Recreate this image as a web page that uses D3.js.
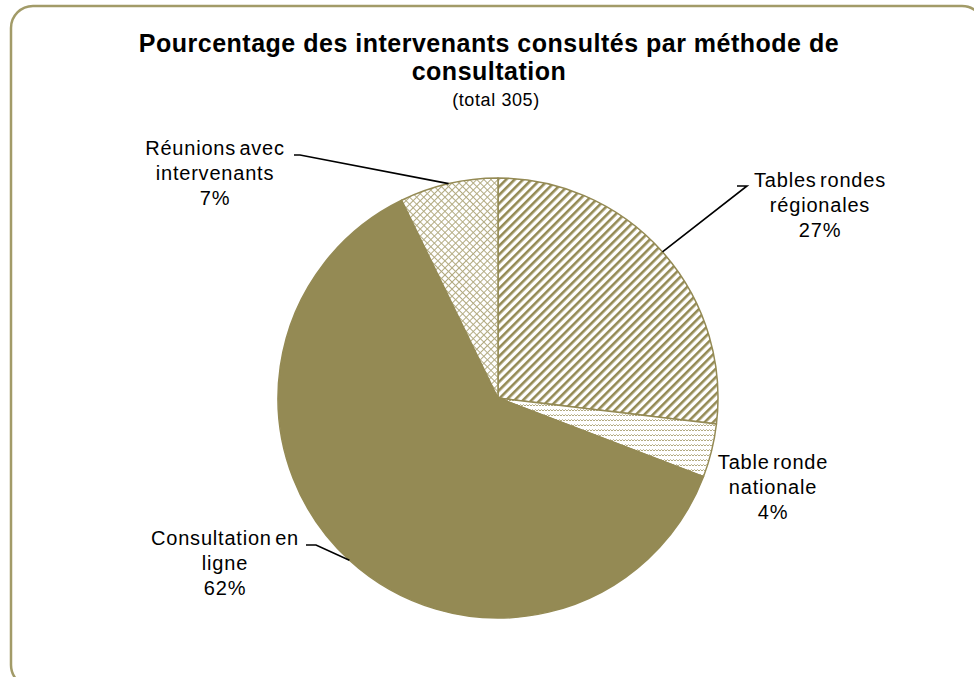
<!DOCTYPE html>
<html>
<head>
<meta charset="utf-8">
<script src="https://cdn.jsdelivr.net/npm/d3@7"></script>
<style>
  body { margin: 0; background: #fff; }
  svg { display: block; font-family: "Liberation Sans", Arial, sans-serif; }
</style>
</head>
<body>
<script>
// Data
const categories = ["Tables rondes régionales", "Table ronde nationale", "Consultation en ligne", "Réunions avec intervenants"];
const counts = [82, 12, 189, 22];        // total 305
const labelLines = [
    ["Tables rondes", "régionales"],
    ["Table ronde", "nationale"],
    ["Consultation en", "ligne"],
    ["Réunions avec", "intervenants"]
];
const fills = ["url(#hatchDiag)", "url(#hatchWave)", "#948a54", "url(#hatchCross)"];

const width = 974, height = 677;
const olive = "#948a54";
const cx = 498, cy = 398, radius = 220;

// label placement (centre x, first baseline y) and the leader elbow, per slice
const labelPos = [
    {x: 820, y: 187, elbow: [[747, 186], [737, 186]]},
    {x: 773, y: 469, elbow: null},
    {x: 225, y: 545, elbow: [[316, 545], [306, 545]]},
    {x: 215, y: 155, elbow: [[300, 155], [294, 155]]}
];

const svg = d3.select("body").append("svg")
    .attr("width", width)
    .attr("height", height);

// patterns
const defs = svg.append("defs");

const diag = defs.append("pattern")
    .attr("id", "hatchDiag")
    .attr("patternUnits", "userSpaceOnUse")
    .attr("width", 6).attr("height", 6)
    .attr("patternTransform", "rotate(45)");
diag.append("rect").attr("width", 6).attr("height", 6).attr("fill", "#fff");
diag.append("rect").attr("x", 0).attr("width", 2.6).attr("height", 6).attr("fill", olive);

const cross = defs.append("pattern")
    .attr("id", "hatchCross")
    .attr("patternUnits", "userSpaceOnUse")
    .attr("width", 5).attr("height", 5)
    .attr("patternTransform", "rotate(45)");
cross.append("rect").attr("width", 5).attr("height", 5).attr("fill", "#fff");
cross.append("rect").attr("width", 1).attr("height", 5).attr("fill", "#b3ab82");
cross.append("rect").attr("width", 5).attr("height", 1).attr("fill", "#b3ab82");

const wave = defs.append("pattern")
    .attr("id", "hatchWave")
    .attr("patternUnits", "userSpaceOnUse")
    .attr("width", 6).attr("height", 5);
wave.append("rect").attr("width", 6).attr("height", 5).attr("fill", "#fff");
wave.append("path")
    .attr("d", "M0,3 L1.5,1.5 L3,3 L4.5,1.5 L6,3")
    .attr("fill", "none")
    .attr("stroke", "#b3ab82")
    .attr("stroke-width", 1);

// outer frame
svg.append("rect")
    .attr("x", 11).attr("y", 6)
    .attr("width", width - 11 + 10).attr("height", height - 6 + 10)
    .attr("rx", 22).attr("ry", 22)
    .attr("fill", "#fff")
    .attr("stroke", "#a29b68")
    .attr("stroke-width", 2.5);

// title
const title = svg.append("text")
    .attr("text-anchor", "middle")
    .attr("font-weight", "bold")
    .attr("font-size", 25)
    .attr("letter-spacing", 0.5)
    .attr("fill", "#000");
title.append("tspan").attr("x", 489).attr("y", 52).text("Pourcentage des intervenants consultés par méthode de");
title.append("tspan").attr("x", 489).attr("y", 80).text("consultation");
svg.append("text")
    .attr("x", 496).attr("y", 106)
    .attr("text-anchor", "middle")
    .attr("font-size", 18)
    .attr("letter-spacing", 0.6)
    .text("(total 305)");

// pie
const total = d3.sum(counts);
const pie = d3.pie().sort(null).value(d => d)(counts);
const arc = d3.arc().innerRadius(0).outerRadius(radius);

const g = svg.append("g").attr("transform", `translate(${cx},${cy})`);

g.selectAll("path")
    .data(pie)
    .join("path")
    .attr("d", arc)
    .attr("fill", (d, i) => fills[i])
    .attr("stroke", olive)
    .attr("stroke-width", 1.5)
    .attr("stroke-linejoin", "round");

// leader lines
pie.forEach((d, i) => {
    const p = labelPos[i];
    if (!p.elbow) return;
    const mid = (d.startAngle + d.endAngle) / 2;
    const ex = cx + radius * Math.sin(mid);
    const ey = cy - radius * Math.cos(mid);
    const pts = [[ex, ey], ...p.elbow];
    svg.append("path")
        .attr("d", d3.line()(pts))
        .attr("fill", "none")
        .attr("stroke", "#000")
        .attr("stroke-width", 1.6);
});

// labels
pie.forEach((d, i) => {
    const p = labelPos[i];
    const t = svg.append("text")
        .attr("text-anchor", "middle")
        .attr("font-size", 20)
        .attr("letter-spacing", 0.8)
        .attr("word-spacing", -3)
        .attr("fill", "#000");
    const lines = [...labelLines[i], Math.round(d.data / total * 100) + "%"];
    lines.forEach((s, k) => {
        t.append("tspan").attr("x", p.x).attr("y", p.y + k * 25).text(s);
    });
});
</script>
</body>
</html>
